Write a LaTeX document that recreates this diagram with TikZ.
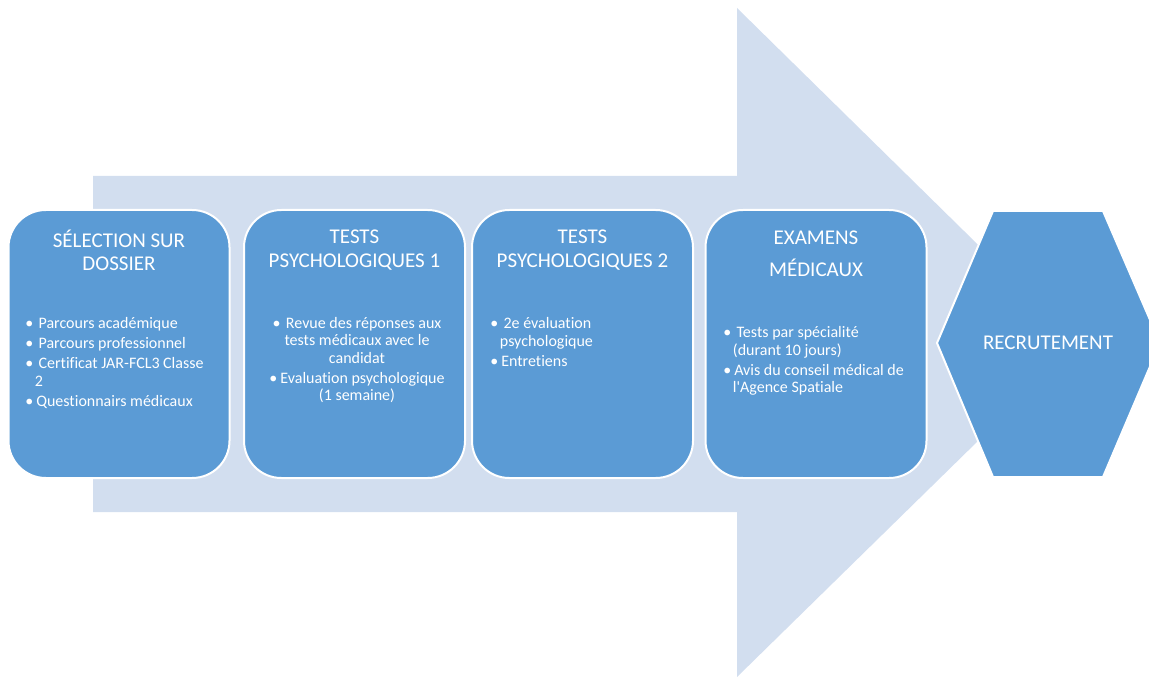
\documentclass[tikz,border=0pt]{standalone}
\usepackage{fontspec}
\setmainfont{Carlito}[Ligatures={TeXOff,CommonOff}]
\usetikzlibrary{positioning,shapes.geometric}
\definecolor{stageblue}{HTML}{5B9BD5}
\definecolor{arrowblue}{HTML}{D2DEEF}
\newcommand{\bul}{\makebox[10pt][l]{\textbullet}}
\newcommand{\bulb}{\makebox[8.25pt][l]{\textbullet}}
\newcommand{\hng}{\hspace*{7.25pt}}

\begin{document}
\begin{tikzpicture}[x=0.75pt,y=-0.75pt,
	stage/.style={rectangle,rounded corners=28pt,draw=white,line width=1.5pt,
		fill=stageblue,minimum width=165.75pt,minimum height=201pt},
	title/.style={text=white,align=center,inner sep=0pt,
		font=\fontsize{15.75}{17.5}\selectfont},
	items/.style={text=white,inner sep=0pt,
		font=\fontsize{12}{13}\selectfont}]
	\useasboundingbox (0,0) rectangle (1149,677);
	\clip (0,0) rectangle (1149,677);
	% big arrow behind
	\fill[arrowblue] (93,176) -- (737,176) -- (737,8) -- (1078,343)
		-- (737,677) -- (737,512) -- (93,512) -- cycle;
	\node [stage] (s1) at (119,344) {};
	\node [stage] (s2) at (354.5,344) {};
	\node [stage] (s3) at (582.5,344) {};
	\node [stage] (s4) at (816,344) {};
	\draw [draw=white,line width=1.5pt,fill=stageblue] (937,343) -- (993,211)
		-- (1103,211) -- (1160,343) -- (1103,477) -- (993,477) -- cycle;
	% titles
	\node [title] (t1) at (119,250) {SÉLECTION SUR\\DOSSIER};
	\node [title] (t2) at (354.5,250) {TESTS\\PSYCHOLOGIQUES 1};
	\node [title] (t3) at (582.5,250) {TESTS\\PSYCHOLOGIQUES 2};
	\node [title] (t4) at (816,254) {EXAMENS\\[6.5pt]MÉDICAUX};
	\node [title] (recr) at (1048,343) {RECRUTEMENT};
	% lists
	\node [items,align=left,anchor=west] (l1) at (25,363)
		{\bul Parcours académique\\[2pt]
		\bul Parcours professionnel\\[2pt]
		\bul Certificat JAR-FCL3 Classe\\
		\hng 2\\[2pt]
		\bulb Questionnairs médicaux};
	\node [items,align=center] (l2) at (357,360)
		{\bul Revue des réponses aux\\
		tests médicaux avec le\\
		candidat\\[2pt]
		\bulb Evaluation psychologique\\
		(1 semaine)};
	\node [items,align=left,anchor=west] (l3) at (490,342)
		{\bul 2e évaluation\\
		\hng psychologique\\[2pt]
		\bulb Entretiens};
	\node [items,align=left,anchor=west] (l4) at (723,361)
		{\bul Tests par spécialité\\
		\hng (durant 10 jours)\\[2pt]
		\bulb Avis du conseil médical de\\
		\hng l'Agence Spatiale};
\end{tikzpicture}
\end{document}
